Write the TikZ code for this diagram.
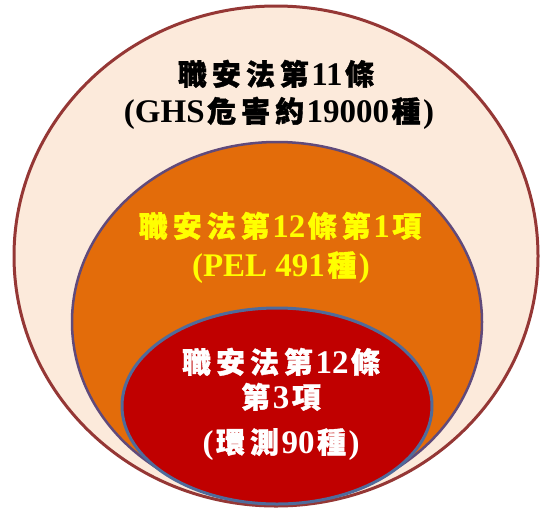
\documentclass[tikz,border=0pt]{standalone}
\usepackage{fontspec}
\setmainfont{Liberation Serif}
\newfontfamily\cjkfont[FakeBold=1.3]{Noto Sans CJK TC}
\definecolor{outerfill}{HTML}{FCEADB}
\definecolor{outerline}{HTML}{953735}
\definecolor{midfill}{HTML}{E36C0A}
\definecolor{midline}{HTML}{604A7B}
\definecolor{innerfill}{HTML}{C00000}
\definecolor{innerline}{HTML}{4F6B9B}
\definecolor{txtyellow}{HTML}{FFFF00}
\newcommand\cc[1]{\makebox[34pt]{\cjkfont\fontsize{29}{29}\selectfont #1}}
\tikzset{
  lbl/.style={anchor=base, inner sep=0pt, font=\bfseries\fontsize{33}{33}\selectfont},
}
\begin{document}
\begin{tikzpicture}[x=1pt,y=-1pt]
\useasboundingbox (0,0) rectangle (540,509);
\draw[outerline, line width=3pt, fill=outerfill] (276,256) ellipse [x radius=262pt, y radius=250pt];
\draw[midline, line width=2.5pt, fill=midfill] (277,322) ellipse [x radius=205pt, y radius=180pt];
\draw[innerline, line width=3pt, fill=innerfill] (277,406) ellipse [x radius=155pt, y radius=98pt];
\node[lbl, text=black] (o1) at (276,85) {\cc{職}\cc{安}\cc{法}\cc{第}11\cc{條}};
\node[lbl, text=black] (o2) at (279,122) {(GHS\cc{危}\cc{害}\cc{約}19000\cc{種})};
\node[lbl, text=txtyellow] (m1) at (280,237) {\cc{職}\cc{安}\cc{法}\cc{第}12\cc{條}\cc{第}1\cc{項}};
\node[lbl, text=txtyellow] (m2) at (281,276) {(PEL 491\cc{種})};
\node[lbl, text=white] (r1) at (281,373) {\cc{職}\cc{安}\cc{法}\cc{第}12\cc{條}};
\node[lbl, text=white] (r2) at (281,408) {\cc{第}3\cc{項}};
\node[lbl, text=white] (r3) at (281,453) {(\cc{環}\cc{測}90\cc{種})};
\end{tikzpicture}
\end{document}
